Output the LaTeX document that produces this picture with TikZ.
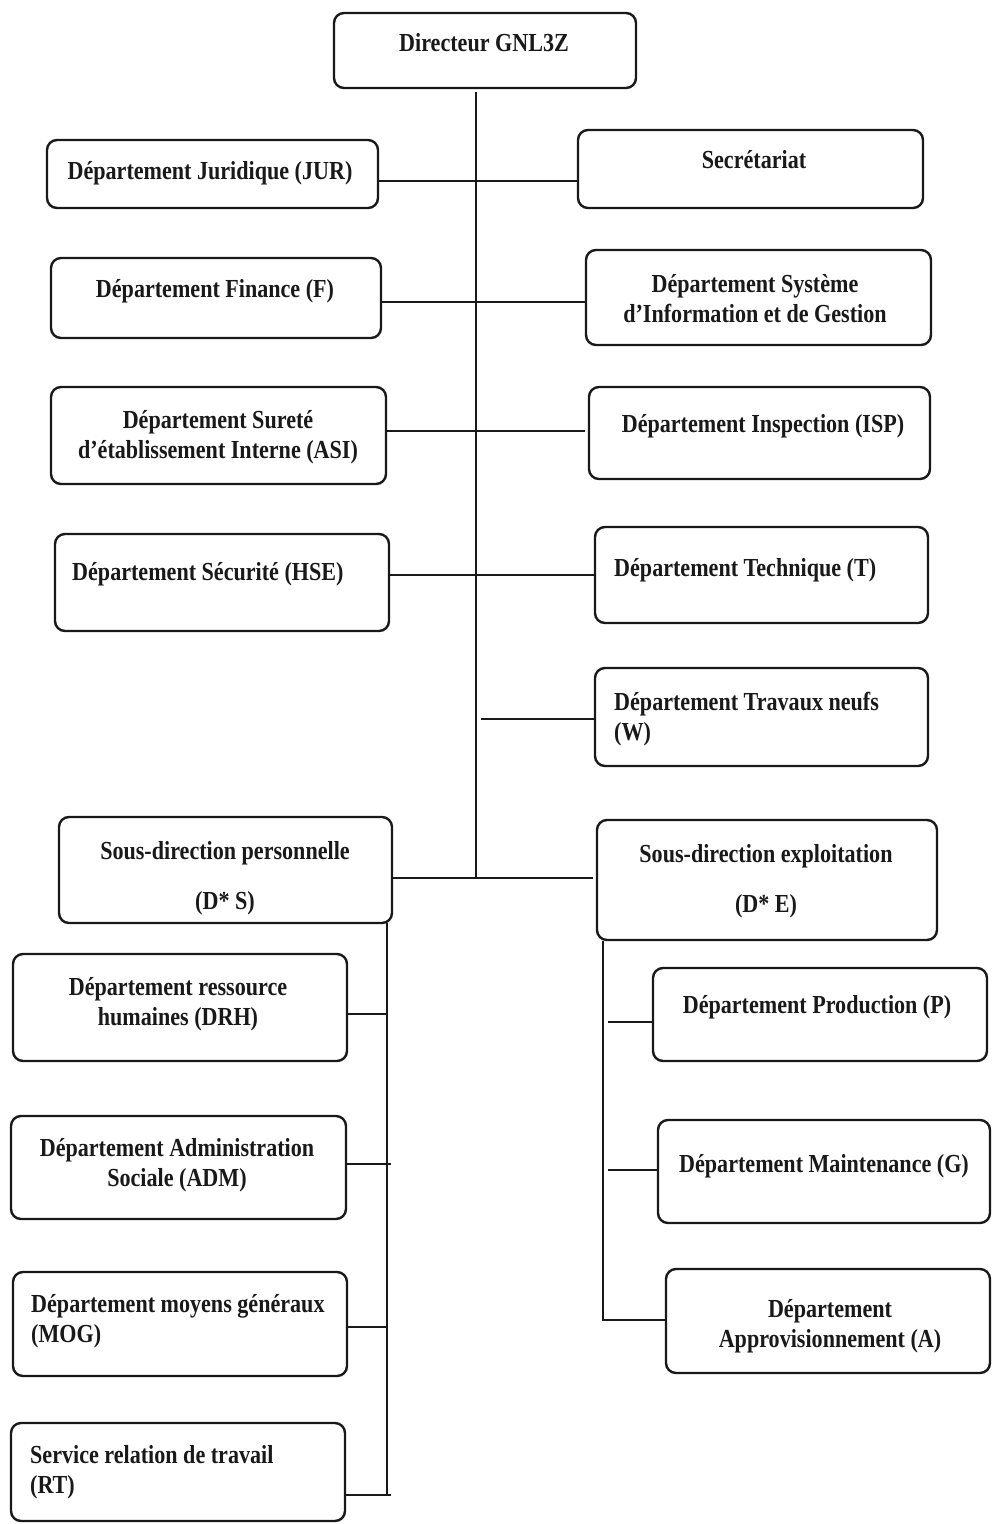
\documentclass[tikz,border=0pt]{standalone}
\usepackage{fontspec}
\setmainfont{Liberation Serif}[FakeStretch=0.85]
\usetikzlibrary{fit}
\begin{document}
\begin{tikzpicture}[x=1pt,y=-1pt,
  orgbox/.style={draw=black!90, line width=2.4pt, rounded corners=10pt, inner sep=0pt},
  lbl/.style={font=\fontsize{26}{30}\selectfont\bfseries, inner sep=0pt, align=center, text=black!90},
  lbll/.style={lbl, align=left, anchor=west},
  link/.style={line width=2.4pt, draw=black!90},
  branch/.style={line width=2pt, draw=black!90},
  spine/.style={line width=1.6pt, draw=black!90}]
\useasboundingbox (0,0) rectangle (992,1524);

% ---- boxes ----
\node[orgbox, fit={(334,13) (636,88)}]   (dir) {};
\node[orgbox, fit={(47,140) (378,208)}]  (jur) {};
\node[orgbox, fit={(578,130) (923,208)}] (sec) {};
\node[orgbox, fit={(51,258) (381,338)}]  (fin) {};
\node[orgbox, fit={(586,250) (931,345)}] (sys) {};
\node[orgbox, fit={(51,387) (386,484)}]  (asi) {};
\node[orgbox, fit={(589,387) (930,479)}] (isp) {};
\node[orgbox, fit={(55,534) (389,631)}]  (hse) {};
\node[orgbox, fit={(595,527) (928,623)}] (tec) {};
\node[orgbox, fit={(595,668) (928,766)}] (trv) {};
\node[orgbox, fit={(59,817) (392,923)}]  (dsp) {};
\node[orgbox, fit={(597,820) (937,940)}] (dse) {};
\node[orgbox, fit={(13,954) (347,1061)}] (drh) {};
\node[orgbox, fit={(11,1116) (346,1219)}] (adm) {};
\node[orgbox, fit={(13,1272) (347,1376)}] (mog) {};
\node[orgbox, fit={(11,1423) (345,1521)}] (rt) {};
\node[orgbox, fit={(653,968) (987,1061)}] (prd) {};
\node[orgbox, fit={(658,1120) (990,1223)}] (mnt) {};
\node[orgbox, fit={(666,1269) (990,1373)}] (apr) {};

% ---- labels ----
\node[lbl] (dirT) at (484,45)  {\strut Directeur GNL3Z};
\node[lbl] (jurT) at (210,173) {\strut Département Juridique (JUR)};
\node[lbl] (secT) at (754,162) {\strut Secrétariat};
\node[lbl] (finT) at (215,291) {\strut Département Finance (F)};
\node[lbl] (sysT) at (755,301) {\strut Département Système\\\strut d’Information et de Gestion};
\node[lbl] (asiT) at (218,437) {\strut Département Sureté\\\strut d’établissement Interne (ASI)};
\node[lbl] (ispT) at (763,426) {\strut Département Inspection (ISP)};
\node[lbll] (hseT) at (72,574)  {\strut Département Sécurité (HSE)};
\node[lbll] (tecT) at (614,570) {\strut Département Technique (T)};
\node[lbll] (trvT) at (614,719) {\strut Département Travaux neufs\\\strut (W)};
\node[lbl] (dspT) at (225,878) {\strut Sous-direction personnelle\\[20pt]\strut (D* S)};
\node[lbl] (dseT) at (766,881) {\strut Sous-direction exploitation\\[20pt]\strut (D* E)};
\node[lbl] (drhT) at (178,1004) {\strut Département ressource\\\strut humaines (DRH)};
\node[lbl] (admT) at (177,1165) {\strut Département Administration\\\strut Sociale (ADM)};
\node[lbll] (mogT) at (31,1321) {\strut Département moyens généraux\\\strut (MOG)};
\node[lbll] (rtT) at (30,1472)  {\strut Service relation de travail\\\strut (RT)};
\node[lbl] (prdT) at (817,1007) {\strut Département Production (P)};
\node[lbl] (mntT) at (824,1166) {\strut Département Maintenance (G)};
\node[lbl] (aprT) at (830,1326) {\strut Département\\\strut Approvisionnement (A)};

% ---- main spine and its levels ----
\coordinate (jSD) at (476,878);
\coordinate (r1) at (476,181);
\coordinate (r2) at (476,302);
\coordinate (r3) at (476,431);
\coordinate (r4) at (476,575);
\coordinate (r5) at (481,719);
\draw[spine] ([yshift=-3pt]dir.south -| jSD) -- (jSD);
\draw[link] (jur.east |- r1) -- (sec.west |- r1);
\draw[link] (fin.east |- r2) -- (sys.west |- r2);
\draw[link] (asi.east |- r3) -- ([xshift=-3pt]isp.west |- r3);
\draw[link] (hse.east |- r4) -- (tec.west |- r4);
\draw[link] (r5) -- (trv.west |- r5);
\draw[link] (dsp.east |- jSD) -- ([xshift=-3pt]dse.west |- jSD);

% ---- personnel branch ----
\coordinate (ls) at (387,923);
\coordinate (lb) at (387,1496);
\coordinate (l1) at (388,1014);
\coordinate (l2) at (391,1164);
\coordinate (l3) at (388,1327);
\coordinate (l4) at (391,1495);
\draw[branch] (ls) -- (lb);
\draw[link] (drh.east |- l1) -- (l1);
\draw[link] (adm.east |- l2) -- (l2);
\draw[link] (mog.east |- l3) -- (l3);
\draw[link] (rt.east |- l4) -- (l4);

% ---- exploitation branch ----
\coordinate (rs) at (603,940);
\coordinate (rc) at (603,1320);
\coordinate (p1) at (608,1022);
\coordinate (p2) at (608,1170);
\draw[branch] (dse.south -| rs) -- (rc) -- (apr.west |- rc);
\draw[link] (p1) -- (prd.west |- p1);
\draw[link] (p2) -- (mnt.west |- p2);
\end{tikzpicture}
\end{document}
